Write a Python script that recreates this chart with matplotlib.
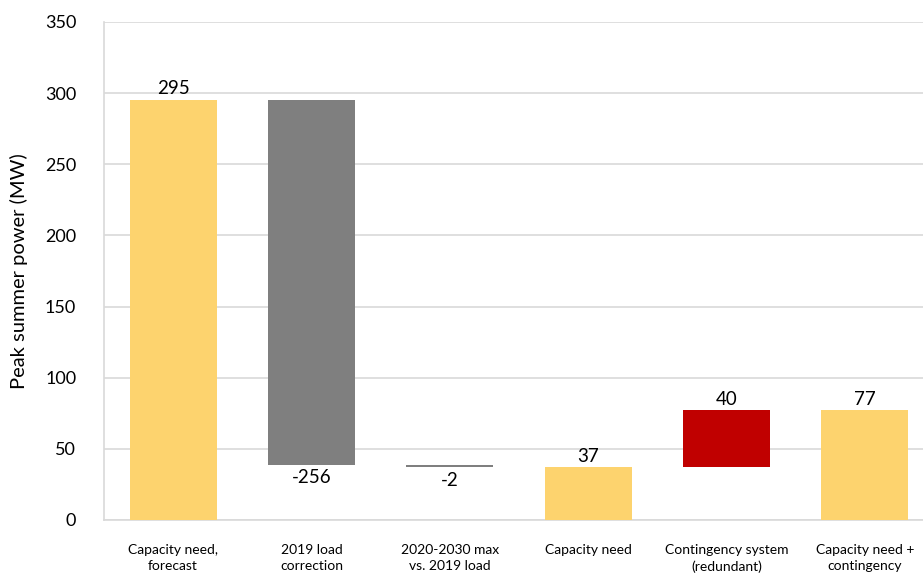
import numpy as np
import matplotlib.pyplot as plt

plt.rcParams['font.family'] = ['Lato', 'DejaVu Sans']

categories = ["Capacity need,\nforecast", "2019 load\ncorrection", "2020-2030 max\nvs. 2019 load",
              "Capacity need", "Contingency system\n(redundant)", "Capacity need +\ncontingency"]
values = [295, -256, -2, 37, 40, 77]
kinds = ["total", "delta", "delta", "total", "delta", "total"]

yellow = "#FDD36E"
gray = "#7F7F7F"
red = "#C00000"

# waterfall bottoms/heights
bottoms, heights, colors = [], [], []
running = 0
for v, k in zip(values, kinds):
    if k == "total":
        bottoms.append(0)
        heights.append(v)
        colors.append(yellow)
        running = v
    else:
        if v < 0:
            bottoms.append(running + v)
            heights.append(-v)
            colors.append(gray)
        else:
            bottoms.append(running)
            heights.append(v)
            colors.append(red)
        running += v

fig = plt.figure(figsize=(9.23, 5.76), dpi=100)
ax = fig.add_axes([104 / 923, 56 / 576, 830 / 923, 498 / 576])
x = np.arange(len(values))
ax.bar(x, heights, bottom=bottoms, width=0.63, color=colors, zorder=3)

for xi, v, b, h in zip(x, values, bottoms, heights):
    if v >= 0:
        ax.text(xi, b + h + 2, str(v), ha="center", va="bottom", fontsize=13.5)
    else:
        ax.text(xi, b - 3, str(v), ha="center", va="top", fontsize=13.5)

ax.set_ylim(0, 350)
ax.set_xlim(-0.5, 5.5)
ax.set_yticks(range(0, 351, 50))
ax.set_xticks(x)
ax.set_xticklabels(categories, fontsize=10, linespacing=1.45)
ax.tick_params(axis="y", labelsize=13, length=0, pad=20)
ax.tick_params(axis="x", length=0, pad=17)
ax.grid(axis="y", color="#D9D9D9", linewidth=1.2, zorder=0)
for s in ["top", "right"]:
    ax.spines[s].set_visible(False)
for s in ["left", "bottom"]:
    ax.spines[s].set_color("#D9D9D9")
    ax.spines[s].set_linewidth(1.2)
ax.set_ylabel("Peak summer power (MW)", fontsize=14.5, labelpad=12)

fig.savefig("out.png", dpi=100)
